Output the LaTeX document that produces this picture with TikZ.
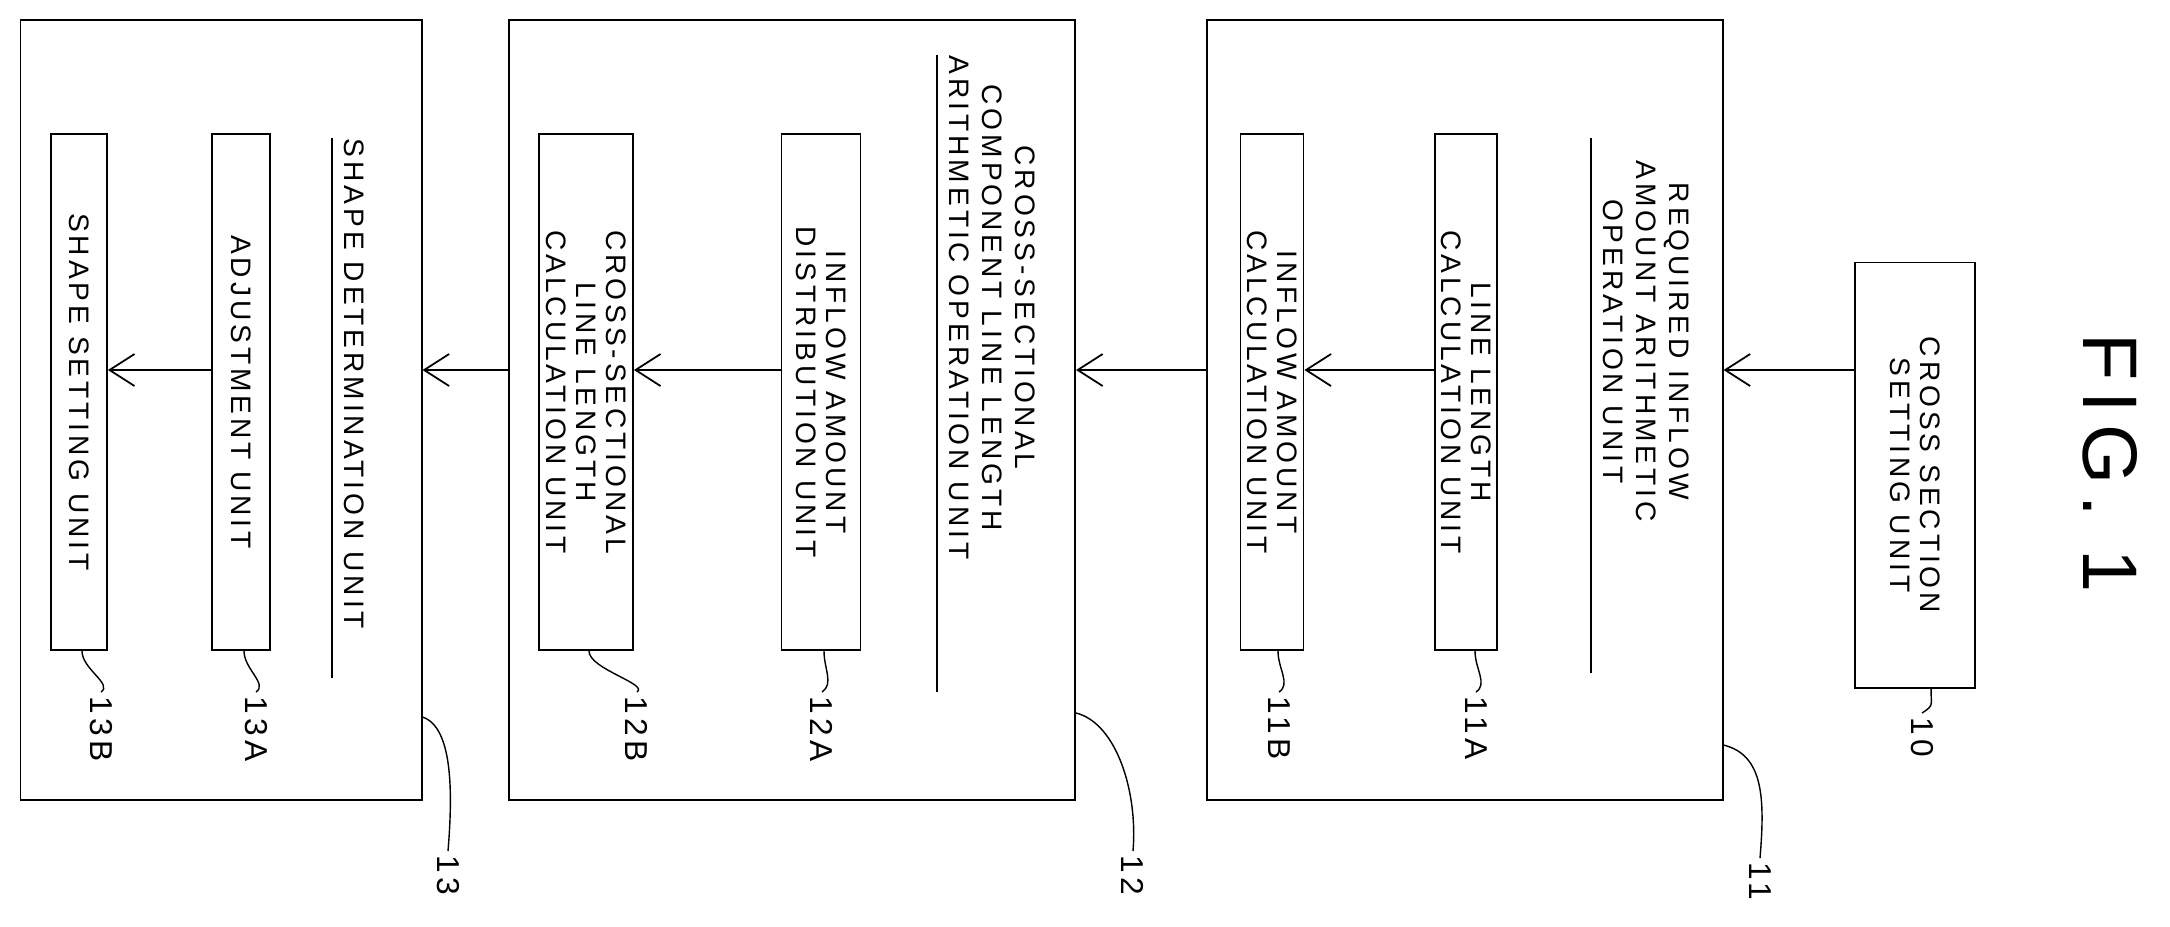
\documentclass[tikz,border=0pt]{standalone}
\usepackage{fontspec}
\setmainfont{Liberation Sans}[LetterSpace=14]
\usetikzlibrary{arrows.meta}
\tikzset{
  unit/.style={draw, rotate=-90, align=center, font=\fontsize{8}{8.6}\selectfont, inner sep=0pt},
  title/.style={rotate=-90, align=center, font=\fontsize{8}{9.5}\selectfont, inner sep=0pt},
  lbl/.style={rotate=-90, anchor=west, font=\fontsize{9}{11}\selectfont, inner sep=1pt},
  frame/.style={draw, inner sep=0pt},
  arr/.style={-{Straight Barb[length=2.5mm,width=3.2mm]}},
  leader/.style={thin}
}
\begin{document}
\begin{tikzpicture}[x=0.01cm, y=-0.01cm, line width=0.5pt]
  \useasboundingbox (0,0) rectangle (2170,926);

  % FIG. 1
  \node[rotate=-90, font=\fontsize{22}{26}\selectfont] (fig) at (2110,463) {FIG. 1};

  % cross section setting unit
  \node[unit, minimum width=4.25cm, minimum height=1.2cm] (sec) at (1915,475) {CROSS SECTION\\SETTING UNIT};

  % outer frames
  \node[frame, minimum width=5.15cm, minimum height=7.79cm] (box11) at (1465,410) {};
  \node[frame, minimum width=5.66cm, minimum height=7.79cm] (box12) at (792,410) {};
  \node[frame, minimum width=4.01cm, minimum height=7.79cm] (box13) at (221,410) {};

  % required inflow amount arithmetic operation unit
  \draw (1591,138) -- (1591,673);
  \node[title, anchor=south west] (t11) at (1602,160) {REQUIRED INFLOW\\AMOUNT ARITHMETIC\\OPERATION UNIT};
  \node[unit, minimum width=5.16cm, minimum height=0.62cm] (11A) at (1466,392) {LINE LENGTH\\CALCULATION UNIT};
  \node[unit, minimum width=5.16cm, minimum height=0.63cm] (11B) at (1272,392) {INFLOW AMOUNT\\CALCULATION UNIT};

  % cross-sectional component line length arithmetic operation unit
  \draw (937,55) -- (937,692);
  \node[title, anchor=south west] (t12) at (948,55) {CROSS-SECTIONAL\\COMPONENT LINE LENGTH\\ARITHMETIC OPERATION UNIT};
  \node[unit, minimum width=5.16cm, minimum height=0.79cm] (12A) at (821,392) {INFLOW AMOUNT\\DISTRIBUTION UNIT};
  \node[unit, minimum width=5.16cm, minimum height=0.94cm] (12B) at (586,392) {CROSS-SECTIONAL\\LINE LENGTH\\CALCULATION UNIT};

  % shape determination unit
  \draw (332,138) -- (332,678);
  \node[title, anchor=south west] (t13) at (343,138) {SHAPE DETERMINATION UNIT};
  \node[unit, minimum width=5.16cm, minimum height=0.58cm] (13A) at (241,392) {ADJUSTMENT UNIT};
  \node[unit, minimum width=5.16cm, minimum height=0.56cm] (13B) at (79,392) {SHAPE SETTING UNIT};

  % arrows
  \coordinate (flow) at (0,370);
  \draw[arr] (sec.south |- flow) -- (box11.east |- flow);
  \draw[arr] (11A.south |- flow) -- (11B.north |- flow);
  \draw[arr] (box11.west |- flow) -- (box12.east |- flow);
  \draw[arr] (12A.south |- flow) -- (12B.north |- flow);
  \draw[arr] (box12.west |- flow) -- (box13.east |- flow);
  \draw[arr] (13A.south |- flow) -- (13B.north |- flow);

  % reference labels
  \node[lbl] (l10) at (1922,713) {10};
  \node[lbl] (l11A) at (1476,692) {11A};
  \node[lbl] (l11B) at (1279,692) {11B};
  \node[lbl] (l12A) at (822,692) {12A};
  \node[lbl] (l12B) at (637,692) {12B};
  \node[lbl] (l13A) at (256,692) {13A};
  \node[lbl] (l13B) at (101,692) {13B};
  \node[lbl] (l11) at (1760,858) {11};
  \node[lbl] (l12) at (1133,851) {12};
  \node[lbl] (l13) at (448,851) {13};

  % leaders
  \draw[leader] ([xshift=1.6mm]sec.east) .. controls +(0,18) and +(12,-8) .. (l10.west);
  \draw[leader] ([xshift=0.9mm]11A.east) .. controls +(0,18) and +(12,-8) .. (l11A.west);
  \draw[leader] ([xshift=0.6mm]11B.east) .. controls +(0,18) and +(12,-8) .. (l11B.west);
  \draw[leader] ([xshift=0.3mm]12A.east) .. controls +(0,18) and +(12,-8) .. (l12A.west);
  \draw[leader] ([xshift=0.3mm]12B.east) .. controls +(0,18) and +(12,-8) .. (l12B.west);
  \draw[leader] ([xshift=0.3mm]13A.east) .. controls +(0,18) and +(12,-8) .. (l13A.west);
  \draw[leader] ([xshift=0.3mm]13B.east) .. controls +(0,18) and +(12,-8) .. (l13B.west);
  \draw[leader] (box11.east |- 0,745) .. controls +(40,10) and +(5,-60) .. (l11.west);
  \draw[leader] (box12.east |- 0,713) .. controls +(40,10) and +(5,-60) .. (l12.west);
  \draw[leader] (box13.east |- 0,717) .. controls +(30,10) and +(5,-60) .. (l13.west);
\end{tikzpicture}
\end{document}
